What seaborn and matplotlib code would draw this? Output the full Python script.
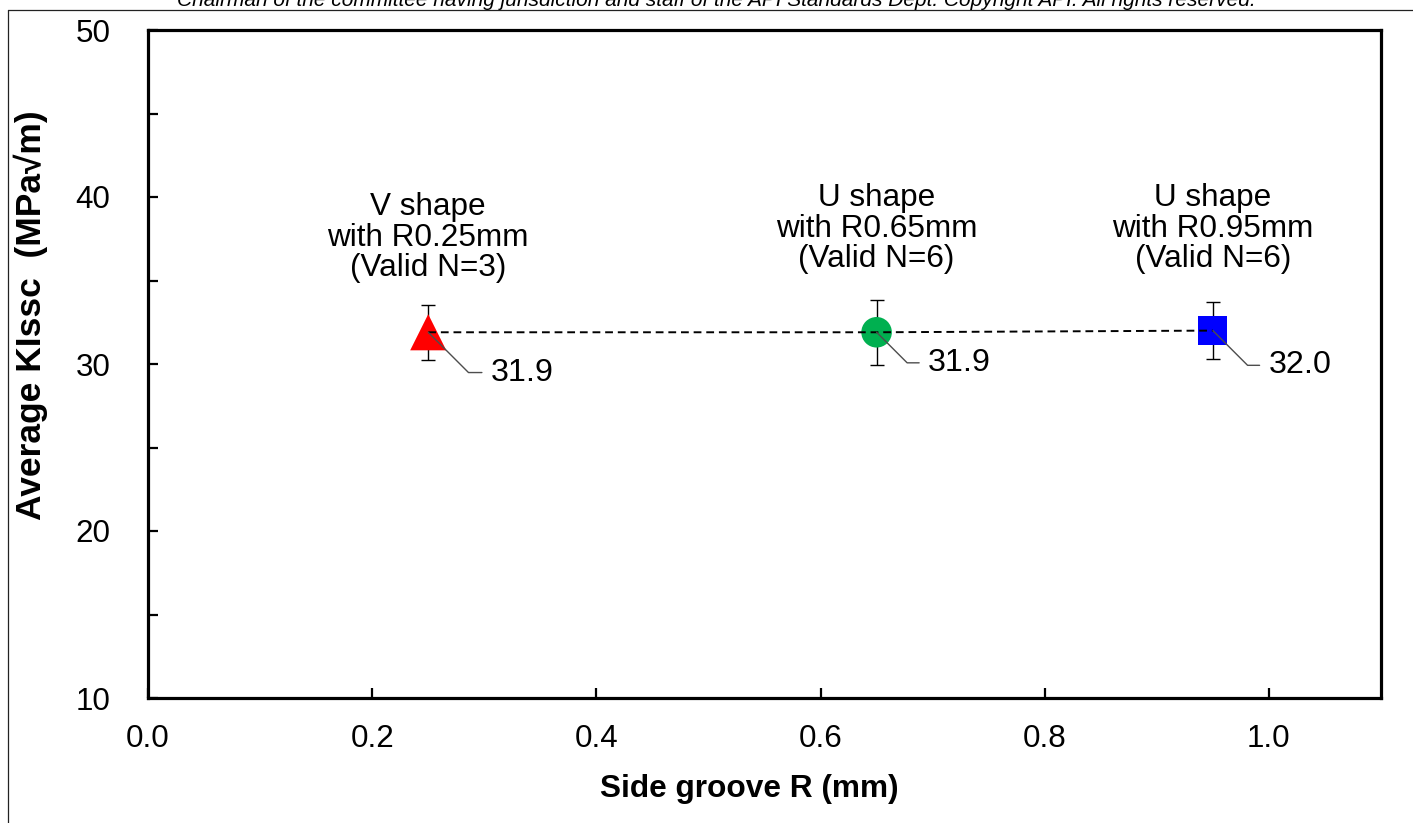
import matplotlib
matplotlib.use("Agg")
import matplotlib.pyplot as plt
import seaborn as sns
import pandas as pd
from matplotlib.ticker import MultipleLocator, FuncFormatter
from matplotlib.lines import Line2D

# ---- data ----
groove_r = [0.25, 0.65, 0.95]
avg_kissc = [31.9, 31.9, 32.0]
kissc_err = [1.65, 1.95, 1.7]
shape_keys = ["V025", "U065", "U095"]
group_labels = ["V shape\nwith R0.25mm\n(Valid N=3)",
                "U shape\nwith R0.65mm\n(Valid N=6)",
                "U shape\nwith R0.95mm\n(Valid N=6)"]
value_labels = ["31.9", "31.9", "32.0"]
x_ticks = [0.0, 0.2, 0.4, 0.6, 0.8, 1.0]
y_tick_labels = [10, 20, 30, 40, 50]
x_label = "Side groove R (mm)"
y_label = "Average KIssc  (MPa\u221am)"
header = ("Chairman of the committee having jurisdiction and staff of the API "
          "Standards Dept. Copyright API. All rights reserved.")

# ---- styling (not data) ----
palette = {"V025": "#FF0000", "U065": "#00B050", "U095": "#0000FF"}
markers = {"V025": "^", "U065": "o", "U095": "s"}
sizes = {"V025": 26 ** 2, "U065": 22 ** 2, "U095": 21 ** 2}
label_offsets = [(45, -29), (37, -22), (40, -25)]   # points
group_label_y = [37.55, 38.1, 38.1]

sns.set_style("white")
plt.rcParams["font.family"] = ["Liberation Sans", "DejaVu Sans"]
plt.rcParams["text.color"] = "black"
plt.rcParams["axes.labelcolor"] = "black"

FS_TICK = 22.6
FS_GROUP = 22.7
FS_VAL = 23.2
fig = plt.figure(figsize=(14.13, 8.23), dpi=100)
ax = fig.add_axes([148 / 1413, 1 - 698 / 823, (1381 - 148) / 1413, (698 - 30) / 823])

df = pd.DataFrame({"r": groove_r, "k": avg_kissc, "shape": shape_keys})

ax.errorbar(groove_r, avg_kissc, yerr=kissc_err, fmt="none", ecolor="black",
            elinewidth=1.0, capsize=4.8, capthick=1.0, zorder=2)
sns.scatterplot(data=df, x="r", y="k", hue="shape", style="shape", size="shape",
                palette=palette, markers=markers, sizes=sizes, legend=False,
                edgecolor="none", linewidth=0, ax=ax, zorder=3)
sns.lineplot(x=groove_r, y=avg_kissc, ax=ax, color="black", lw=1.4,
             linestyle=(0, (4, 2.5)), zorder=4, sort=False)

for xv, yv, lab, off in zip(groove_r, avg_kissc, value_labels, label_offsets):
    ax.annotate(lab, xy=(xv, yv), xytext=off, textcoords="offset points",
                ha="left", va="center", fontsize=FS_VAL, color="black", zorder=5,
                arrowprops=dict(arrowstyle="-", color="#4d4d4d", lw=1.0,
                                connectionstyle="angle,angleA=0,angleB=-45,rad=0",
                                relpos=(0, 0.5), shrinkA=4, shrinkB=0))

for xv, gy, lab in zip(groove_r, group_label_y, group_labels):
    ax.text(xv, gy, lab, ha="center", va="center", fontsize=FS_GROUP,
            linespacing=1.02, color="black")

ax.set_xlim(0, 1.1)
ax.set_ylim(10, 50)
ax.set_xticks(x_ticks)
ax.xaxis.set_major_formatter(FuncFormatter(lambda v, p: f"{v:.1f}"))
ax.set_yticks(y_tick_labels)
ax.yaxis.set_minor_locator(MultipleLocator(5))
ax.tick_params(axis="both", which="both", direction="in", length=7, width=1.6,
               colors="black", labelsize=FS_TICK)
ax.tick_params(axis="y", which="both", pad=27, left=True, right=False)
ax.tick_params(axis="x", pad=19, bottom=True, top=False)

for sp in ax.spines.values():
    sp.set_visible(True)
    sp.set_linewidth(2.3)
    sp.set_color("black")

ax.set_xlabel(x_label, fontsize=22.8, fontweight="bold", va="center", color="black")
ax.set_ylabel(y_label, fontsize=25.5, fontweight="bold", va="center", color="black")
ax.xaxis.set_label_coords(0.488, -0.136)
ax.yaxis.set_label_coords(-0.095, 0.573)

fig.text(0.507, 1 - 6 / 823, header, ha="center", va="baseline",
         fontsize=15, style="italic", color="black")
fig.add_artist(Line2D([8 / 1413, 1], [1 - 9.5 / 823] * 2, transform=fig.transFigure,
                      color="#222222", lw=0.9))
fig.add_artist(Line2D([8 / 1413] * 2, [0, 1 - 9.5 / 823], transform=fig.transFigure,
                      color="#222222", lw=0.9))

fig.savefig("out.png", dpi=100)
